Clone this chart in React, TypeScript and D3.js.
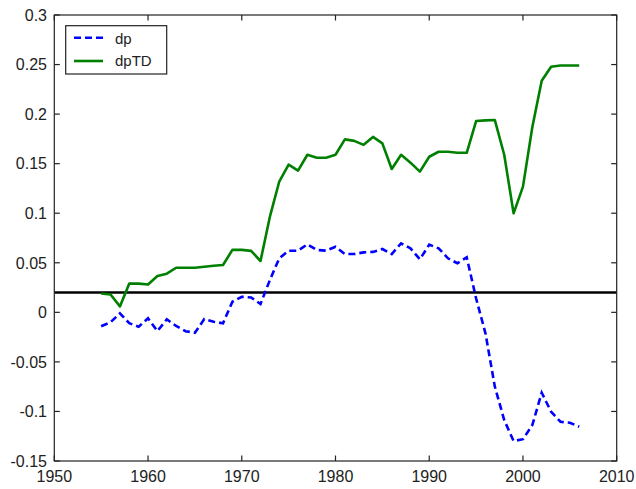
import React from "react";
import * as d3 from "d3";

const years: number[] = [
  1955, 1956, 1957, 1958, 1959, 1960, 1961, 1962, 1963, 1964, 1965, 1966, 1967, 1968, 1969,
  1970, 1971, 1972, 1973, 1974, 1975, 1976, 1977, 1978, 1979, 1980, 1981, 1982, 1983, 1984,
  1985, 1986, 1987, 1988, 1989, 1990, 1991, 1992, 1993, 1994, 1995, 1996, 1997, 1998, 1999,
  2000, 2001, 2002, 2003, 2004, 2005, 2006,
];

const dp: number[] = [
  -0.014, -0.01, -0.001, -0.011, -0.0145, -0.006, -0.019, -0.007, -0.0138, -0.019, -0.0206,
  -0.0068, -0.0095, -0.011, 0.0107, 0.0157, 0.015, 0.0084, 0.0326, 0.0545, 0.0622, 0.0622,
  0.0686, 0.0629, 0.0622, 0.0662, 0.0588, 0.0588, 0.0605, 0.061, 0.0639, 0.0588, 0.0696,
  0.0646, 0.0535, 0.0683, 0.0646, 0.0545, 0.0495, 0.0555, 0.0141, -0.0212, -0.075, -0.1087,
  -0.1299, -0.128, -0.1137, -0.0811, -0.1003, -0.1104, -0.1114, -0.1154,
];

const dpTD: number[] = [
  0.019, 0.018, 0.006, 0.029, 0.029, 0.028, 0.0366, 0.039, 0.045, 0.045, 0.045, 0.046, 0.047,
  0.0477, 0.063, 0.063, 0.062, 0.0518, 0.0965, 0.132, 0.149, 0.143, 0.159, 0.156, 0.156, 0.159,
  0.1745, 0.173, 0.169, 0.177, 0.1705, 0.1446, 0.159, 0.151, 0.142, 0.157, 0.162, 0.162, 0.161,
  0.161, 0.193, 0.1937, 0.194, 0.159, 0.0999, 0.1268, 0.187, 0.2337, 0.2478, 0.249, 0.249, 0.249,
];

const refLevel = 0.02;

const xTicks: number[] = [1950, 1960, 1970, 1980, 1990, 2000, 2010];
const yTicks: number[] = [0.3, 0.25, 0.2, 0.15, 0.1, 0.05, 0, -0.05, -0.1, -0.15];
const yTickLabels: string[] = ["0.3", "0.25", "0.2", "0.15", "0.1", "0.05", "0", "-0.05", "-0.1", "-0.15"];

const seriesNames: string[] = ["dp", "dpTD"];

const W = 636;
const H = 489;
const L = 54.3;
const R = 616.7;
const T = 15;
const B = 461;

export default function App() {
  const x = d3.scaleLinear().domain([1950, 2010]).range([L, R]);
  const y = d3.scaleLinear().domain([-0.15, 0.3]).range([B, T]);
  const line = d3
    .line<number>()
    .x((_, i) => x(years[i]))
    .y((v) => y(v));
  const font = "'Liberation Sans', Arial, sans-serif";
  const tickLen = 5.5;
  const fs = 16;
  return (
    <svg
      width={W}
      height={H}
      style={{ position: "fixed", left: 0, top: 0, background: "#fff" }}
      fontFamily={font}
    >
      <rect x={0} y={0} width={W} height={H} fill="#fff" />
      {/* data */}
      <line x1={L} x2={R} y1={y(refLevel)} y2={y(refLevel)} stroke="#000" strokeWidth={2.4} />
      <path d={line(dpTD) || ""} fill="none" stroke="#008000" strokeWidth={2.6} strokeLinejoin="round" />
      <path
        d={line(dp) || ""}
        fill="none"
        stroke="#0000ff"
        strokeWidth={2.6}
        strokeDasharray="7,4"
      />
      {/* frame */}
      <rect x={L} y={T} width={R - L} height={B - T} fill="none" stroke="#222" strokeWidth={1.2} />
      {xTicks.map((t) => (
        <g key={"x" + t}>
          <line x1={x(t)} x2={x(t)} y1={B} y2={B - tickLen} stroke="#222" strokeWidth={1.2} />
          <line x1={x(t)} x2={x(t)} y1={T} y2={T + tickLen} stroke="#222" strokeWidth={1.2} />
          <text x={x(t)} y={481.5} fontSize={fs} textAnchor="middle" fill="#222">
            {t}
          </text>
        </g>
      ))}
      {yTicks.map((t, i) => (
        <g key={"y" + i}>
          <line x1={L} x2={L + tickLen} y1={y(t)} y2={y(t)} stroke="#222" strokeWidth={1.2} />
          <line x1={R} x2={R - tickLen} y1={y(t)} y2={y(t)} stroke="#222" strokeWidth={1.2} />
          <text x={47} y={y(t)} dy="0.36em" fontSize={fs} textAnchor="end" fill="#222">
            {yTickLabels[i]}
          </text>
        </g>
      ))}
      {/* legend */}
      <rect x={65.7} y={25.7} width={101} height={48.3} fill="#fff" stroke="#222" strokeWidth={1.2} />
      <line x1={74} x2={103} y1={37.7} y2={37.7} stroke="#0000ff" strokeWidth={2.6} strokeDasharray="7,4" />
      <line x1={74} x2={103} y1={61} y2={61} stroke="#008000" strokeWidth={2.6} />
      <text x={115} y={43.5} fontSize={15} fill="#222">
        {seriesNames[0]}
      </text>
      <text x={115} y={66} fontSize={15} fill="#222">
        {seriesNames[1]}
      </text>
    </svg>
  );
}
